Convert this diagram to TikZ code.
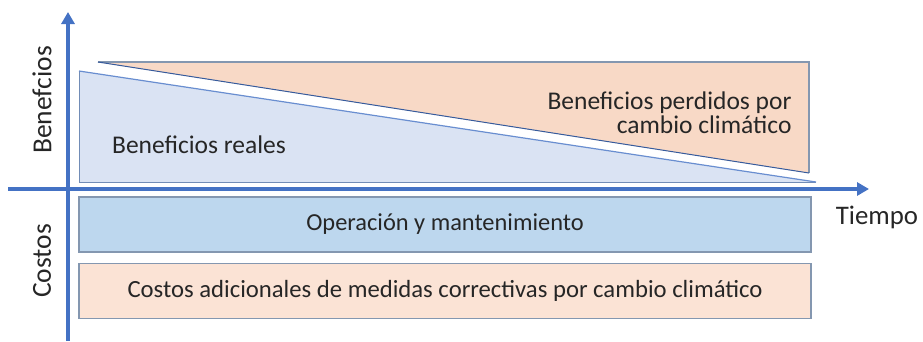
\documentclass[tikz,border=0pt]{standalone}
\usepackage{fontspec}
\setmainfont{Carlito}
\usetikzlibrary{positioning}
\usetikzlibrary{arrows.meta}
\definecolor{axblue}{HTML}{4472C4}
\definecolor{lblue}{HTML}{DAE3F3}
\definecolor{mblue}{HTML}{BDD7EE}
\definecolor{lorange}{HTML}{F8D9C6}
\definecolor{porange}{HTML}{FBE3D5}
\definecolor{edgegray}{HTML}{8497B0}
\definecolor{txt}{HTML}{262626}
\tikzset{ax/.style={line width=3.6pt, draw=axblue, -{Triangle[width=13pt,length=12pt]}}}
\tikzset{bar/.style={draw=edgegray, line width=1.2pt, minimum width=732pt, minimum height=55pt, inner sep=0pt, text=txt}}
\tikzset{lab/.style={text=txt, font=\fontsize{25.5}{24}\selectfont}}
\tikzset{axlab/.style={text=txt, font=\fontsize{27.5}{32}\selectfont}}

\begin{document}
\begin{tikzpicture}[x=1pt, y=-1pt]
\useasboundingbox (0,0) rectangle (923,341);
\coordinate (o) at (68,189);
\coordinate (yb) at (68,341);
\coordinate (yt) at (68,12);
\coordinate (xl) at (8,189);
\coordinate (xr) at (869,189);

% beneficios
\fill[lblue] (79,71) -- (816,182) -- (79,182) -- cycle;
\draw[edgegray!70!axblue, line width=1pt] (816,182) -- (79,182) -- (79,71);
\draw[axblue!80, line width=1.2pt] (79,71) -- (816,182);
\draw[lorange, fill=lorange] (98,62) -- (809,62) -- (809,173) -- cycle;
\draw[edgegray, line width=1.2pt] (98,62) -- (809,62) -- (809,173);
\draw[axblue!80!black, line width=1pt] (98,62) -- (809,173);

\node[lab] (real) at (199,145) {Beneficios reales};
\node[lab, align=right, anchor=east] (perd) at (795,113) {Beneficios perdidos por\\cambio climático};

% costos
\node[bar, fill=mblue, font=\fontsize{24.4}{28}\selectfont] (oym) at (445,224.5) {Operación y mantenimiento};
\node[bar, fill=porange, font=\fontsize{24.7}{28}\selectfont, below = 10pt of oym] (adic) {Costos adicionales de medidas correctivas por cambio climático};

% ejes
\draw[ax] (yb) -- (yt);
\draw[ax] (xl) -- (xr);
\node[axlab, font=\fontsize{26.8}{32}\selectfont] (tiempo) at (877,217) {Tiempo};
\node[axlab, rotate=90] (benef) at (42,100) {Benefcios};
\node[axlab, rotate=90] (costos) at (42,261) {Costos};
\end{tikzpicture}
\end{document}
